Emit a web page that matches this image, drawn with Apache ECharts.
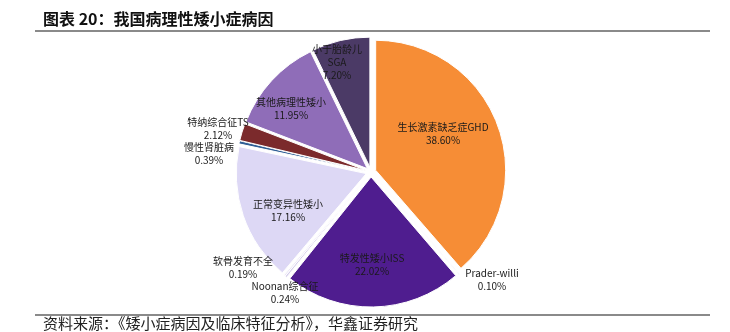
<!DOCTYPE html>
<html>
<head>
<meta charset="utf-8">
<script src="https://cdn.jsdelivr.net/npm/echarts@6/dist/echarts.min.js"></script>
<style>
  html, body { margin: 0; padding: 0; background: #fff; }
  #chart { width: 730px; height: 332px; }
</style>
</head>
<body>
<div id="chart"></div>
<script>
// Causes of pathological short stature (share of cases, %)
const causes = [
  '生长激素缺乏症GHD',
  'Prader-willi',
  '特发性矮小ISS',
  'Noonan综合征',
  '软骨发育不全',
  '正常变异性矮小',
  '慢性肾脏病',
  '特纳综合征TS',
  '其他病理性矮小',
  '小于胎龄儿\nSGA'
];
const shares = [38.60, 0.10, 22.02, 0.24, 0.19, 17.16, 0.39, 2.12, 11.95, 7.20];
const sliceColors = [
  '#F68D36', '#E4E0F2', '#4F1D8F', '#D4CDEB', '#E8E4F5',
  '#DDD8F5', '#2F5E95', '#7B2A2C', '#8F6DB8', '#4B3A66'
];

// Label anchor points (text centre) for each slice
const labelPos = [
  [443, 134], [492, 280], [372, 265], [285, 293], [243, 268],
  [288, 211], [209, 154], [218, 129], [291, 109], [337, 62]
];

const chart = echarts.init(document.getElementById('chart'), null, { renderer: 'canvas' });

const FONT = '"Noto Sans CJK SC", "Noto Sans", sans-serif';
const CENTER = [371, 172];
const RADIUS = 130;

const pieData = causes.map((name, i) => ({ name, value: shares[i] }));

chart.setOption({
  animation: false,
  backgroundColor: '#fff',
  graphic: [
    {
      type: 'text', left: 43, top: 11,
      style: { text: '图表 20：我国病理性矮小症病因', font: 'bold 16px ' + FONT, fill: '#111' }
    },
    {
      type: 'line', shape: { x1: 35, y1: 31, x2: 710, y2: 31 },
      style: { stroke: '#8a8a8a', lineWidth: 2 }
    },
    {
      type: 'line', shape: { x1: 35, y1: 315, x2: 710, y2: 315 },
      style: { stroke: '#8a8a8a', lineWidth: 2 }
    },
    {
      type: 'text', left: 43, top: 316,
      style: { text: '资料来源：《矮小症病因及临床特征分析》，华鑫证券研究', font: '15px ' + FONT, fill: '#222' }
    }
  ],
  series: [
    {
      // exploded slices
      type: 'pie',
      center: CENTER,
      radius: [0, RADIUS],
      startAngle: 90,
      clockwise: true,
      selectedMode: 'multiple',
      selectedOffset: 5,
      itemStyle: { borderColor: '#fff', borderWidth: 1 },
      emphasis: { disabled: true },
      label: { show: false },
      labelLine: { show: false },
      data: pieData.map((d, i) => ({
        ...d,
        selected: true,
        itemStyle: { color: sliceColors[i] }
      }))
    },
    {
      // slice labels, laid out on a transparent copy of the same pie
      type: 'pie',
      center: CENTER,
      radius: [0, RADIUS],
      startAngle: 90,
      clockwise: true,
      silent: true,
      z: 3,
      avoidLabelOverlap: false,
      itemStyle: { color: 'rgba(0,0,0,0)', borderWidth: 0 },
      emphasis: { disabled: true },
      label: {
        show: true,
        position: 'inside',
        color: '#1a1a1a',
        fontFamily: FONT,
        fontSize: 10,
        lineHeight: 13,
        align: 'center',
        formatter: p => p.name + '\n' + p.value.toFixed(2) + '%'
      },
      labelLine: { show: false },
      labelLayout: p => ({
        x: labelPos[p.dataIndex][0],
        y: labelPos[p.dataIndex][1],
        align: 'center',
        verticalAlign: 'middle'
      }),
      data: pieData
    }
  ]
});
</script>
</body>
</html>
